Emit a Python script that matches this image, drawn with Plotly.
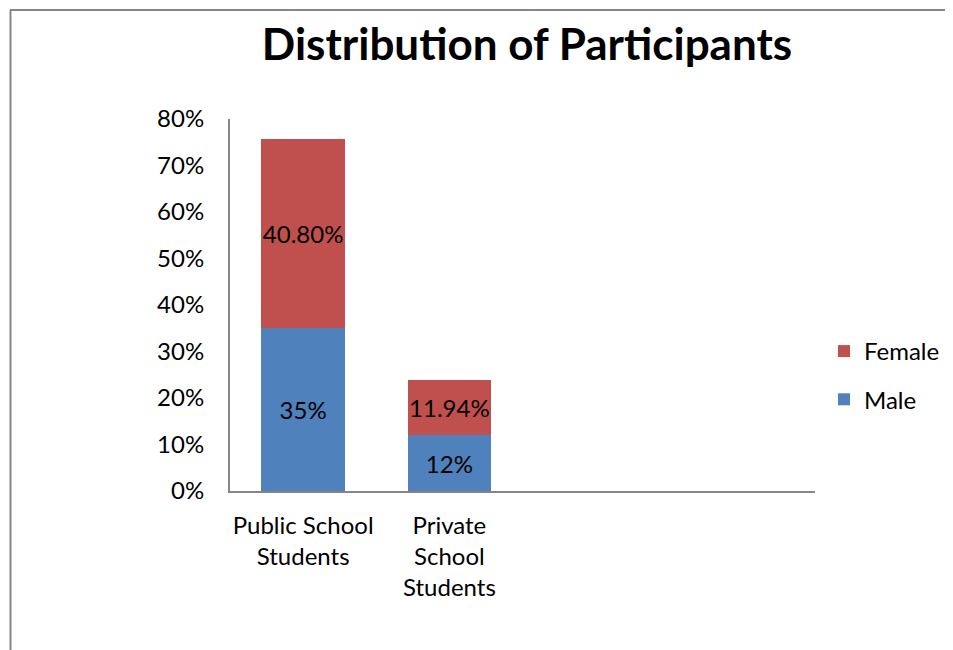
import plotly.graph_objects as go

categories = ["Public School<br>Students", "Private<br>School<br>Students"]
male = [35, 12]
female = [40.8, 11.94]
y_ticks = [0, 10, 20, 30, 40, 50, 60, 70, 80]
y_tick_labels = [f"{v}%" for v in y_ticks]

# page body has an 8px margin; figure coords = screen coords - 8
OFF = 8
W, H = 953 - OFF, 650 - OFF
ML = 230 - OFF
MR = W - (815 - OFF)
MT = 119 - OFF
MB = H - (491 - OFF)
FONT = "Lato, 'Open Sans', sans-serif"
FS = 24

fig = go.Figure()
fig.add_trace(go.Bar(
    x=categories, y=male, name="Male",
    marker=dict(color="#4F81BD", line=dict(width=0)),
    texttemplate="%{y:.0f}%", textposition="inside", insidetextanchor="middle",
    textangle=0, constraintext="none", cliponaxis=False,
    textfont=dict(color="black", size=FS, family=FONT),
    width=0.57, legendrank=2, legendgroup="m",
))
fig.add_trace(go.Bar(
    x=categories, y=female, name="Female",
    marker=dict(color="#C0504D", line=dict(width=0)),
    texttemplate="%{y:.2f}%", textposition="inside", insidetextanchor="middle",
    textangle=0, constraintext="none", cliponaxis=False,
    textfont=dict(color="black", size=FS, family=FONT),
    width=0.57, legendrank=1, legendgroup="f",
))

pw = W - ML - MR
ph = H - MT - MB
def px_x(px):
    return (px - OFF - ML) / pw
def px_y(py):
    return (H - MB - (py - OFF)) / ph

fig.update_layout(
    width=W, height=H,
    barmode="stack",
    margin=dict(l=ML, r=MR, t=MT, b=MB, pad=0, autoexpand=False),
    paper_bgcolor="white", plot_bgcolor="white",
    font=dict(family=FONT, size=FS, color="black"),
    title=dict(text="<b>Distribution of Participants</b>",
               font=dict(family=FONT, size=44, color="black"),
               x=(527 - OFF) / W, xref="container", xanchor="center",
               y=1 - (45 - OFF) / H, yref="container", yanchor="middle"),
    xaxis=dict(
        type="category", range=[-0.5, 3.5],
        showline=True, linecolor="#868686", linewidth=2,
        showgrid=False, ticks="", ticklabelstandoff=12,
        tickfont=dict(family=FONT, size=FS, color="black"),
        fixedrange=True, automargin=False,
    ),
    yaxis=dict(
        range=[0, 80], tickvals=y_ticks, ticktext=y_tick_labels,
        showline=True, linecolor="#868686", linewidth=2,
        showgrid=False, zeroline=False, ticks="", ticklabelstandoff=19,
        tickfont=dict(family=FONT, size=FS, color="black"),
        fixedrange=True, automargin=False,
    ),
    legend=dict(
        x=px_x(824), y=px_y(329), xanchor="left", yanchor="top",
        traceorder="grouped", tracegroupgap=14,
        font=dict(family=FONT, size=FS, color="black"),
        itemwidth=30, bgcolor="rgba(0,0,0,0)",
    ),
    shapes=[
        dict(type="line", xref="paper", yref="paper",
             x0=px_x(10.5), x1=px_x(10.5), y0=px_y(10), y1=px_y(660),
             line=dict(color="#868686", width=2)),
        dict(type="line", xref="paper", yref="paper",
             x0=px_x(10), x1=px_x(960), y0=px_y(10), y1=px_y(10),
             line=dict(color="#868686", width=2)),
    ],
)

fig.write_html("out.html")
